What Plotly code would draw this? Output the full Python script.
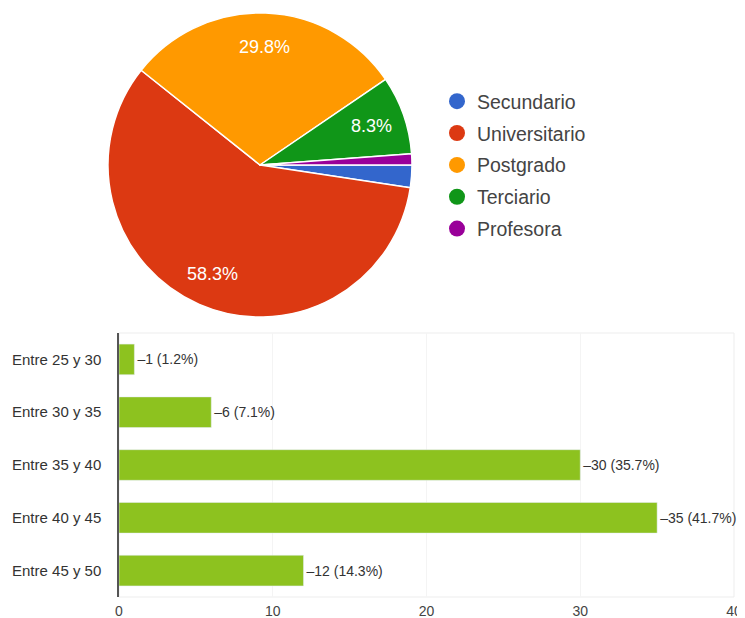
import math
import plotly.graph_objects as go

# The page body has an 8px margin; lay out in page pixels and convert.
OFF = 8
W, H = 737, 610

# Pie data
pie_labels = ["Secundario", "Universitario", "Postgrado", "Terciario", "Profesora"]
pie_values = [2, 49, 25, 7, 1]
pie_colors = ["#3366cc", "#dc3912", "#ff9900", "#109618", "#990099"]

# Bar data
bar_categories = ["Entre 25 y 30", "Entre 30 y 35", "Entre 35 y 40", "Entre 40 y 45", "Entre 45 y 50"]
bar_values = [1, 6, 30, 35, 12]
bar_pct_labels = ["1.2%", "7.1%", "35.7%", "41.7%", "14.3%"]
x_ticks = [0, 10, 20, 30, 40]

FONT = "Liberation Sans, Arial, sans-serif"


def px(x):
    return (x - OFF) / W


def py(y):
    return 1 - (y - OFF) / H


# pie geometry (page pixels)
CX, CY, R = 260, 165, 152
ROT = 90  # first slice starts at 3 o'clock, clockwise

fig = go.Figure()

fig.add_trace(go.Pie(
    labels=pie_labels, values=pie_values,
    textinfo="none",
    marker=dict(colors=pie_colors, line=dict(color="white", width=1.5)),
    sort=False, direction="clockwise", rotation=ROT,
    showlegend=False, hoverinfo="label+percent",
    domain=dict(x=[px(CX - R), px(CX + R)], y=[py(CY + R), py(CY - R)]),
))

# percentage labels placed inside the slices, computed from the values
total = sum(pie_values)
cum = 0
annotations = []
for v in pie_values:
    frac = v / total
    mid = ROT + (cum + frac / 2) * 360
    cum += frac
    if frac < 0.05:
        continue
    th = math.radians(mid)
    d = 0.78 * R
    annotations.append(dict(
        x=px(CX + d * math.sin(th)), y=py(CY - d * math.cos(th)),
        xref="paper", yref="paper", showarrow=False,
        xanchor="center", yanchor="middle",
        text=f"{frac * 100:.1f}%",
        font=dict(color="white", size=18, family=FONT),
    ))

# legend entries with circle markers (on a hidden auxiliary axis)
for lab, col in zip(pie_labels, pie_colors):
    fig.add_trace(go.Scatter(
        x=[None], y=[None], mode="markers", name=lab, legendgroup=lab,
        marker=dict(color=col, size=16, symbol="circle"),
        showlegend=True, xaxis="x2", yaxis="y2", hoverinfo="skip",
    ))

fig.add_trace(go.Bar(
    x=bar_values, y=bar_categories, orientation="h",
    marker=dict(color="#8dc21f"),
    text=[f"–{v} ({p})" for v, p in zip(bar_values, bar_pct_labels)],
    textposition="outside", cliponaxis=False,
    textfont=dict(color="#333333", size=14, family=FONT),
    showlegend=False, width=0.58,
))

fig.update_layout(
    width=W, height=H,
    margin=dict(l=0, r=0, t=0, b=0, autoexpand=False),
    paper_bgcolor="white", plot_bgcolor="white",
    font=dict(family=FONT, color="#444444"),
    showlegend=True,
    annotations=annotations,
    legend=dict(
        x=px(437), y=py(82), xanchor="left", yanchor="top",
        font=dict(size=19.5, color="#444444", family=FONT),
        tracegroupgap=3.5, itemsizing="trace", bgcolor="rgba(0,0,0,0)",
    ),
    xaxis=dict(
        domain=[px(119), px(734)], range=[0, 40], tickvals=x_ticks,
        showgrid=True, gridcolor="#f4f4f4", zeroline=False,
        showline=False, tickfont=dict(size=14, color="#444444"),
        fixedrange=True, automargin=False, ticklabelstandoff=4,
    ),
    yaxis=dict(
        type="category",
        domain=[py(597), py(333)], autorange="reversed",
        categoryorder="array", categoryarray=bar_categories,
        showline=True, linecolor="#555555", linewidth=1.5,
        showgrid=False, ticklabelstandoff=13, automargin=False,
        tickfont=dict(size=15, color="#333333"),
    ),
    xaxis2=dict(domain=[0, 0.01], visible=False, anchor="y2"),
    yaxis2=dict(domain=[0.99, 1], visible=False, anchor="x2"),
    shapes=[dict(
        type="rect", xref="x domain", yref="y domain", x0=0, x1=1, y0=0, y1=1,
        line=dict(color="#ededed", width=1), layer="below",
    )],
)

fig.write_html("out.html")
